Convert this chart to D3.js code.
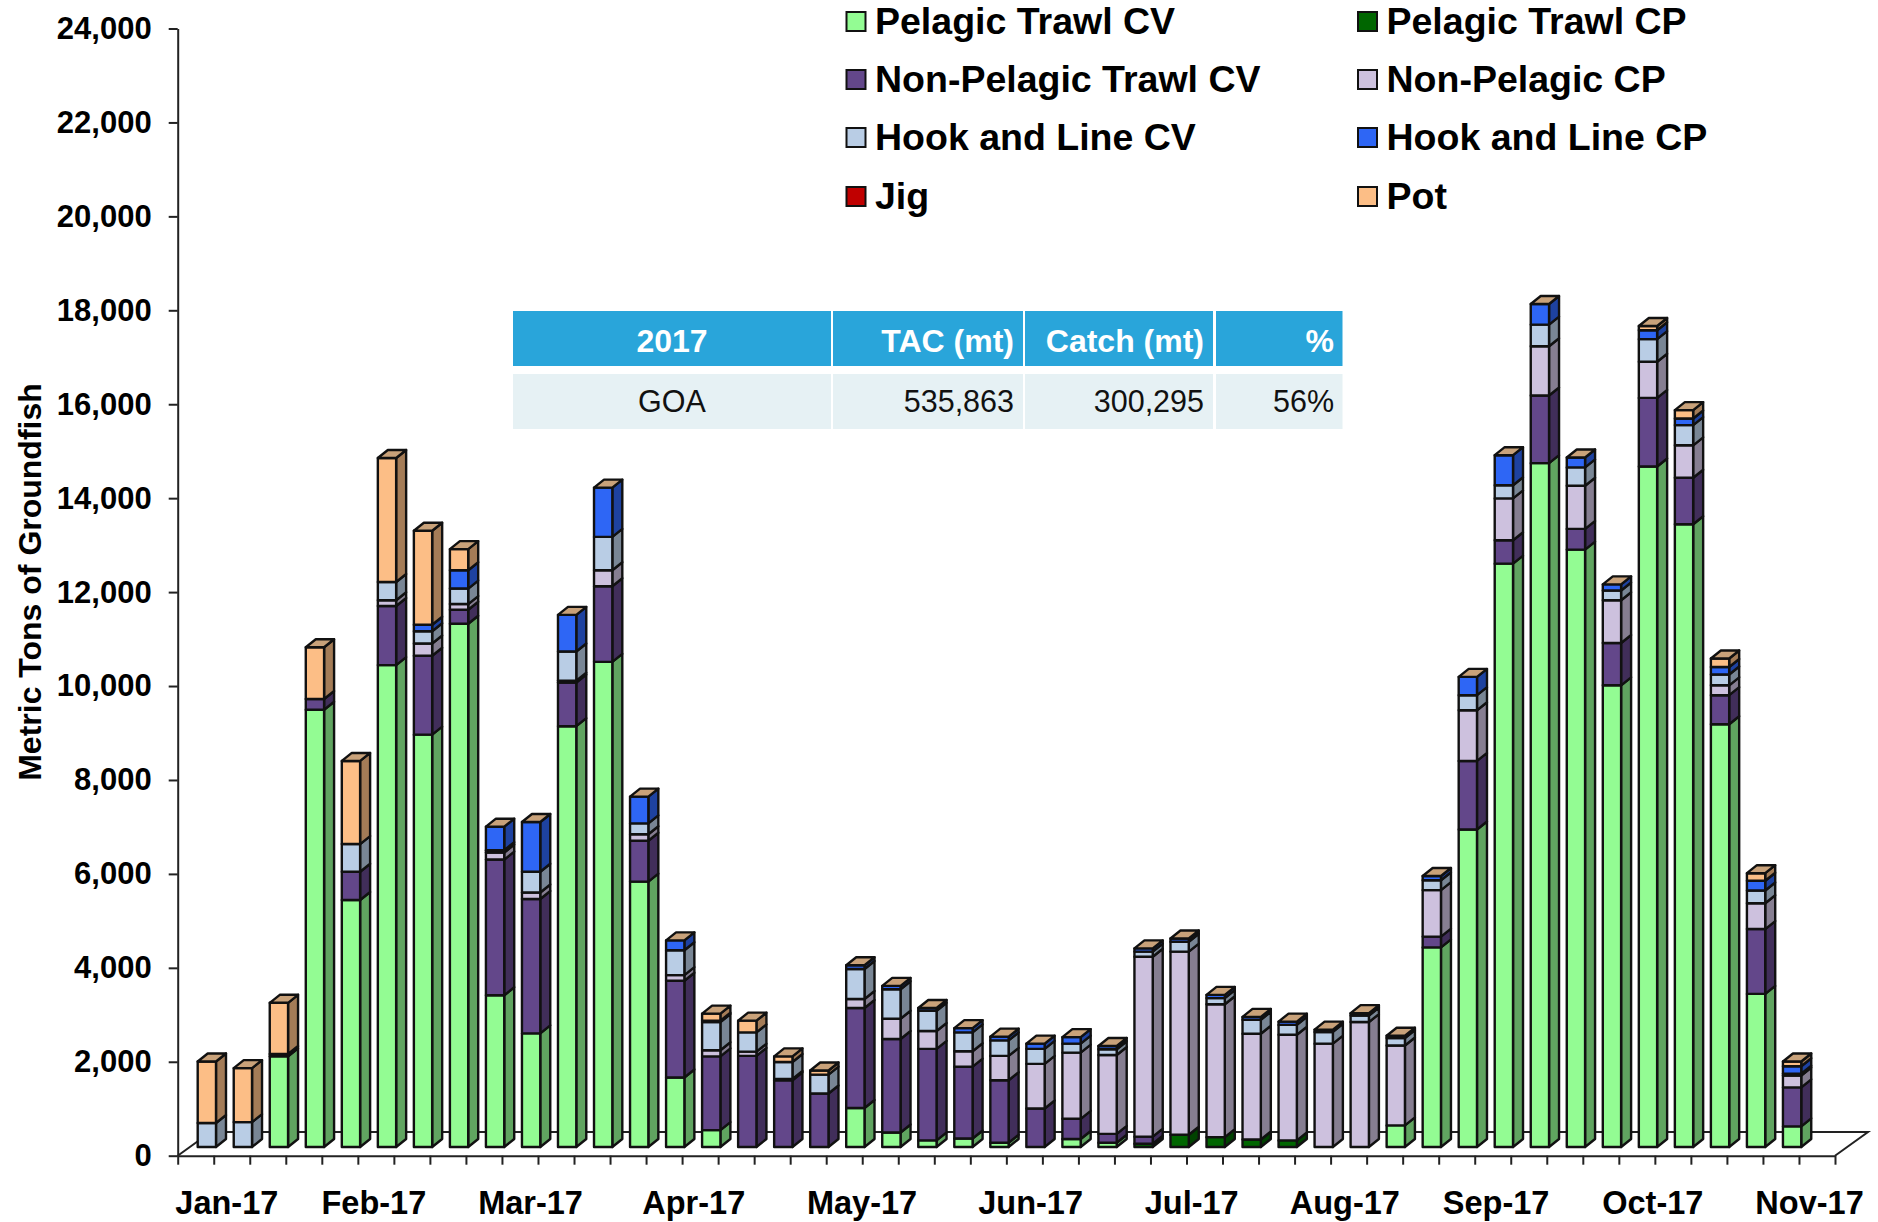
<!DOCTYPE html>
<html>
<head>
<meta charset="utf-8">
<style>
	html, body { margin: 0; padding: 0; background: #fff; }
	svg { display: block; }
	text { font-family: "Liberation Sans", Arial, sans-serif; }
</style>
<script src="https://cdn.jsdelivr.net/npm/d3@7/dist/d3.min.js"></script>
</head>
<body>
<svg id="chart" width="1878" height="1222"></svg>
<script>
// Weekly catch by gear, metric tons (45 weeks)
const pelagicCV = [0,0,1930,9310,5260,10260,8780,11140,3230,2420,8960,10330,5650,1480,360,0,0,0,830,310,140,180,90,0,170,90,0,0,0,0,0,0,0,460,4250,6760,12420,14560,12720,9830,14490,13260,9000,3260,440];
const pelagicCP = [0,0,0,0,0,0,0,0,0,0,0,0,0,0,0,0,0,0,0,0,0,0,0,0,0,0,70,260,210,160,140,0,0,0,0,0,0,0,0,0,0,0,0,0,0];
const nonPelagicCV = [0,0,0,230,600,1260,1680,300,2890,2860,930,1610,870,2060,1570,1940,1420,1140,2130,1990,1950,1530,1330,820,430,190,150,0,0,0,0,0,0,0,230,1460,500,1440,440,900,1460,990,620,1380,830];
const nonPelagicCP = [0,0,0,0,0,120,260,120,150,140,40,340,140,120,130,90,30,0,190,430,380,330,520,950,1410,1680,3830,3900,2830,2250,2250,2200,2660,1700,990,1080,890,1050,920,910,770,690,210,550,250];
const hookLineCV = [510,530,0,0,590,390,260,330,50,440,620,710,230,530,600,410,360,400,640,630,430,400,330,320,190,120,110,210,130,300,210,250,140,160,210,320,280,460,390,210,480,430,230,270,40];
const hookLineCP = [0,0,0,0,0,0,140,390,500,1060,780,1050,570,210,30,0,0,0,80,70,60,90,80,110,140,70,70,70,70,60,70,50,50,50,90,390,640,440,210,130,190,140,160,210,160];
const jig = [0,0,50,0,0,0,0,0,0,0,0,0,0,0,0,0,0,0,0,0,0,0,0,0,0,0,0,0,0,0,0,0,0,0,0,0,0,0,0,0,0,0,0,0,0];
const pot = [1310,1150,1090,1100,1770,2640,2000,450,0,0,0,0,0,0,150,250,120,90,0,0,0,0,0,0,0,0,0,0,0,0,0,0,0,0,0,0,0,0,0,0,90,180,180,160,100];

const seriesNames = ["Pelagic Trawl CV", "Pelagic Trawl CP", "Non-Pelagic Trawl CV", "Non-Pelagic CP", "Hook and Line CV", "Hook and Line CP", "Jig", "Pot"];
const seriesValues = [pelagicCV, pelagicCP, nonPelagicCV, nonPelagicCP, hookLineCV, hookLineCP, jig, pot];
const seriesColors = ["#93FC93", "#006600", "#63478A", "#CDC1DE", "#B9CDE5", "#2E66F5", "#C00000", "#FCBE86"];

// Month labels sit at uneven places along the week axis in the original
const monthLabels = ["Jan-17", "Feb-17", "Mar-17", "Apr-17", "May-17", "Jun-17", "Jul-17", "Aug-17", "Sep-17", "Oct-17", "Nov-17"];
const monthWeeks = [1.35, 5.43, 9.78, 14.31, 18.98, 23.66, 28.13, 32.38, 36.58, 40.93, 45.28];

const tableHeader = ["2017", "TAC (mt)", "Catch (mt)", "%"];
const tableRow = ["GOA", "535,863", "300,295", "56%"];

const width = 1878;
const weekCount = 46;
const plot = { left: 177.7, right: 1835, top: 28.5, bottom: 1155.7 };
const floorDepth = { dx: 33, dy: 23.7 };
const barWidth = 18.3;
const barDepth = { dx: 10, dy: 8 };
const barInset = 20;
const barLift = 8.7;
const lineColor = "#222";

const svg = d3.select("#chart");

const x = d3.scaleLinear().domain([0, weekCount]).range([plot.left, plot.right]);
const y = d3.scaleLinear().domain([0, 24000]).range([plot.bottom, plot.top]);

// Floor of the 3-D box
svg.append("path")
	.attr("d", d3.line()([
		[plot.left, plot.bottom],
		[plot.left + floorDepth.dx, plot.bottom - floorDepth.dy],
		[plot.right + floorDepth.dx, plot.bottom - floorDepth.dy],
		[plot.right, plot.bottom],
	]))
	.attr("fill", "none")
	.attr("stroke", lineColor)
	.attr("stroke-width", 2);

// Axes
const yAxis = svg.append("g")
	.attr("transform", `translate(${plot.left},0)`)
	.call(d3.axisLeft(y).tickValues(d3.range(0, 24001, 2000)).tickFormat(d3.format(",")).tickSize(9).tickPadding(17).tickSizeOuter(0));
yAxis.selectAll("text").attr("font-size", 31).attr("font-weight", "bold").attr("fill", "#000");

const xAxis = svg.append("g")
	.attr("transform", `translate(0,${plot.bottom})`)
	.call(d3.axisBottom(x).tickValues(d3.range(0, weekCount + 1)).tickFormat("").tickSize(9).tickSizeOuter(0));

const monthAxis = svg.append("g")
	.attr("transform", `translate(0,${plot.bottom})`)
	.call(d3.axisBottom(x).tickValues(monthWeeks).tickFormat((d, i) => monthLabels[i]).tickSize(0).tickPadding(35));
monthAxis.select(".domain").remove();
monthAxis.selectAll("text").attr("font-size", 32.5).attr("font-weight", "bold").attr("fill", "#000");

svg.selectAll(".domain, .tick line").attr("stroke", lineColor).attr("stroke-width", 2);

svg.append("text")
	.attr("transform", "translate(41,582) rotate(-90)")
	.attr("text-anchor", "middle")
	.attr("font-size", 32)
	.attr("font-weight", "bold")
	.text("Metric Tons of Groundfish");

// Stacked boxes
const weeks = d3.range(pelagicCV.length);
const stack = d3.stack()
	.keys(d3.range(seriesNames.length))
	.value((week, s) => seriesValues[s][week]);
const layers = stack(weeks);

const barX = (week) => x(week) + barInset;
const barY = (value) => y(value) - barLift;
const sideShade = (color) => d3.rgb(color).darker(1.2);

const boxes = svg.append("g")
	.attr("stroke", "#111")
	.attr("stroke-width", 2.4)
	.attr("stroke-linejoin", "round");

layers.forEach((layer, s) => {
	const segments = layer.map((d, week) => ({ week, y0: d[0], y1: d[1] })).filter((d) => d.y1 > d.y0);
	const g = boxes.append("g");

	g.selectAll(".side")
		.data(segments)
		.join("polygon")
		.attr("class", "side")
		.attr("fill", sideShade(seriesColors[s]))
		.attr("points", (d) => {
			const right = barX(d.week) + barWidth;
			return [
				[right, barY(d.y0)],
				[right + barDepth.dx, barY(d.y0) - barDepth.dy],
				[right + barDepth.dx, barY(d.y1) - barDepth.dy],
				[right, barY(d.y1)],
			].join(" ");
		});

	g.selectAll(".front")
		.data(segments)
		.join("rect")
		.attr("class", "front")
		.attr("fill", seriesColors[s])
		.attr("x", (d) => barX(d.week))
		.attr("y", (d) => barY(d.y1))
		.attr("width", barWidth)
		.attr("height", (d) => barY(d.y0) - barY(d.y1));
});

// The cap always takes the colour of the top series, even when it is empty
const lastLayer = layers[layers.length - 1];
boxes.append("g")
	.selectAll("polygon")
	.data(weeks)
	.join("polygon")
	.attr("fill", "#C9A27A")
	.attr("points", (week) => {
		const left = barX(week);
		const top = barY(lastLayer[week][1]);
		return [
			[left, top],
			[left + barDepth.dx, top - barDepth.dy],
			[left + barWidth + barDepth.dx, top - barDepth.dy],
			[left + barWidth, top],
		].join(" ");
	});

// Legend, two columns filled row by row
const legend = svg.append("g");
const legendColumns = [846.5, 1358];
const legendRows = [21, 79, 137, 196];
seriesNames.forEach((name, i) => {
	const lx = legendColumns[i % 2];
	const ly = legendRows[Math.floor(i / 2)];
	legend.append("rect")
		.attr("x", lx)
		.attr("y", ly - 9)
		.attr("width", 19)
		.attr("height", 19)
		.attr("fill", seriesColors[i])
		.attr("stroke", "#111")
		.attr("stroke-width", 2);
	legend.append("text")
		.attr("x", lx + (i % 2 ? 28.5 : 28.5))
		.attr("y", ly + 12.5)
		.attr("font-size", 37.5)
		.attr("font-weight", "bold")
		.text(name);
});

// Small summary table
const columns = [
	{ x0: 513, x1: 831, textX: 672, anchor: "middle" },
	{ x0: 833, x1: 1023, textX: 1014, anchor: "end" },
	{ x0: 1025, x1: 1213, textX: 1204, anchor: "end" },
	{ x0: 1216, x1: 1342.5, textX: 1334, anchor: "end" },
];
const table = svg.append("g");
columns.forEach((col, i) => {
	table.append("rect")
		.attr("x", col.x0).attr("y", 311)
		.attr("width", col.x1 - col.x0).attr("height", 55)
		.attr("fill", "#29A5DA");
	table.append("rect")
		.attr("x", col.x0).attr("y", 374)
		.attr("width", col.x1 - col.x0).attr("height", 55)
		.attr("fill", "#E6F1F4");
	table.append("text")
		.attr("x", col.textX).attr("y", 352)
		.attr("text-anchor", col.anchor)
		.attr("font-size", 32)
		.attr("font-weight", "bold")
		.attr("fill", "#fff")
		.text(tableHeader[i]);
	table.append("text")
		.attr("x", col.textX).attr("y", 412)
		.attr("text-anchor", col.anchor)
		.attr("font-size", 30.5)
		.attr("fill", "#111")
		.text(tableRow[i]);
});
</script>
</body>
</html>
